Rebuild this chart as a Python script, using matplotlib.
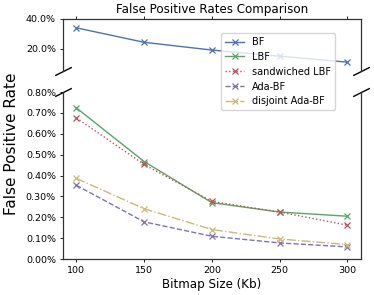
import matplotlib
matplotlib.use('Agg')
import matplotlib.pyplot as plt
from matplotlib.ticker import PercentFormatter

# bitmap sizes (Kb)
sizes = [100, 150, 200, 250, 300]

# false positive rates (fractions)
bf = [0.340, 0.243, 0.191, 0.150, 0.110]
lbf = [0.00724, 0.00467, 0.00270, 0.00225, 0.00205]
sandwiched_lbf = [0.00676, 0.00453, 0.00276, 0.00225, 0.00162]
ada_bf = [0.00353, 0.00178, 0.00109, 0.00077, 0.00058]
disjoint_ada_bf = [0.00386, 0.00241, 0.00141, 0.00096, 0.00069]

colors = ['#4C72B0', '#55A868', '#C44E52', '#8172B2', '#CCB974']

plt.rcParams['font.size'] = 6.8
plt.rcParams['axes.edgecolor'] = '#333333'
plt.rcParams['axes.linewidth'] = 0.9
for a in ('xtick', 'ytick'):
    plt.rcParams[a + '.major.size'] = 2.5
    plt.rcParams[a + '.major.width'] = 0.6
    plt.rcParams[a + '.major.pad'] = 2.5

fig = plt.figure(figsize=(3.74, 2.95), dpi=100)
ax1 = fig.add_axes([0.168, 0.759, 0.797, 0.177])
ax2 = fig.add_axes([0.168, 0.122, 0.797, 0.566], sharex=ax1)

series = [
    (bf, 'BF', '-'),
    (lbf, 'LBF', '-'),
    (sandwiched_lbf, 'sandwiched LBF', ':'),
    (ada_bf, 'Ada-BF', '--'),
    (disjoint_ada_bf, 'disjoint Ada-BF', '-.'),
]

handles = []
for ax in (ax1, ax2):
    handles = []
    for (vals, name, ls), c in zip(series, colors):
        h, = ax.plot(sizes, vals, ls, marker='x', color=c, lw=1.0, ms=5,
                     mew=0.9, label=name)
        handles.append(h)

ax1.set_ylim(0.05, 0.40)
ax1.set_yticks([0.2, 0.4])
ax1.yaxis.set_major_formatter(PercentFormatter(1.0, decimals=1))
ax2.set_ylim(0.0, 0.008)
ax2.set_yticks([i * 0.001 for i in range(9)])
ax2.yaxis.set_major_formatter(PercentFormatter(1.0, decimals=2))
ax2.set_xlim(90, 310)
ax2.set_xticks(sizes)

ax1.spines['bottom'].set_visible(False)
ax2.spines['top'].set_visible(False)
ax1.xaxis.tick_top()
ax1.tick_params(labeltop=False)
ax2.xaxis.tick_bottom()

# break marks
d = 0.5
kw = dict(marker=[(-1, -d), (1, d)], markersize=12, linestyle='none',
          color='k', mec='k', mew=1, clip_on=False)
ax1.plot([0, 1], [0, 0], transform=ax1.transAxes, **kw)
ax2.plot([0, 1], [1, 1], transform=ax2.transAxes, **kw)

ax1.set_title('False Positive Rates Comparison', fontsize=8.6, pad=4.5)
ax2.set_xlabel('Bitmap Size (Kb)', fontsize=8.6, labelpad=2)
fig.text(0.032, 0.513, 'False Positive Rate', rotation=90, va='center',
         ha='center', fontsize=11)

fig.legend(handles=handles, loc='upper left', bbox_to_anchor=(0.591, 0.888),
           borderaxespad=0, fontsize=7.0)

fig.savefig('out.png', dpi=100)
